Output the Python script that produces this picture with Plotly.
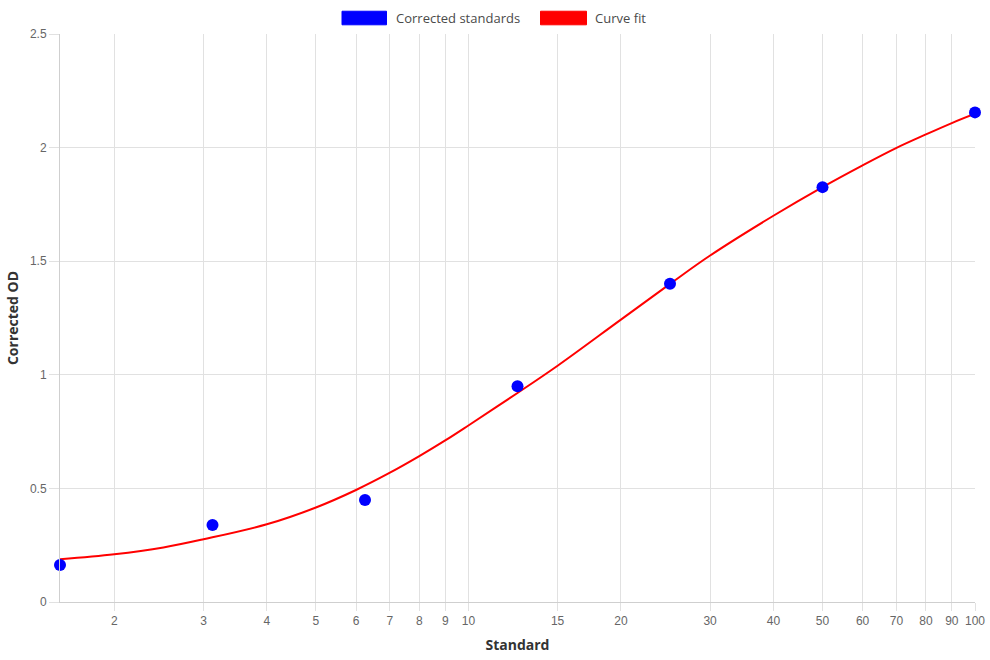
import math
import plotly.graph_objects as go

# Data
std_x = [1.5625, 3.125, 6.25, 12.5, 25, 50, 100]
std_y = [0.163, 0.339, 0.449, 0.95, 1.401, 1.826, 2.155]

fit_x = [1.5625, 2, 2.5, 3, 4, 5, 6, 7, 8, 9, 10, 12.5, 15, 20, 25, 30, 40, 50, 60, 70, 80, 90, 100]
fit_y = [0.188, 0.21, 0.24, 0.276, 0.342, 0.416, 0.493, 0.569, 0.642, 0.711, 0.777, 0.92, 1.04,
         1.243, 1.40, 1.525, 1.700, 1.826, 1.922, 1.999, 2.058, 2.108, 2.149]

x_ticks = [2, 3, 4, 5, 6, 7, 8, 9, 10, 15, 20, 30, 40, 50, 60, 70, 80, 90, 100]
y_ticks = [0, 0.5, 1, 1.5, 2, 2.5]
y_tick_text = ["0", "0.5", "1", "1.5", "2", "2.5"]

series_names = ["Corrected standards", "Curve fit"]
series_colors = ["#0000ff", "#ff0000"]

W, H = 990, 660
ML, MR, MT, MB = 60, 15, 33.5, 58
PW, PH = W - ML - MR, H - MT - MB

fig = go.Figure()
fig.add_trace(go.Scatter(x=fit_x, y=fit_y, mode="lines", name=series_names[1],
                         line=dict(color=series_colors[1], width=2, shape="spline", smoothing=1.0),
                         hoverinfo="x+y"))
fig.add_trace(go.Scatter(x=std_x, y=std_y, mode="markers", name=series_names[0],
                         marker=dict(color=series_colors[0], size=12, line=dict(width=0)),
                         cliponaxis=False, hoverinfo="x+y"))

grid = "#e1e1e1"
tick_font = dict(family="Liberation Sans, Arial, sans-serif", size=12, color="#666666")
title_font = dict(family="Open Sans, sans-serif", size=14, color="#333333")

eps = 1e-6
fig.update_xaxes(type="log", range=[math.log10(min(std_x)) - eps, math.log10(max(std_x)) + eps],
                 tickvals=x_ticks,
                 ticktext=[str(v) for v in x_ticks], showgrid=True, gridcolor=grid, gridwidth=1,
                 showline=True, linecolor="#cfcfcf", linewidth=1, ticks="outside", ticklen=8,
                 tickcolor=grid, tickfont=tick_font, zeroline=False, automargin=False,
                 title=dict(text="<b>Standard</b>", font=title_font, standoff=12))
fig.update_yaxes(range=[0, 2.5], tickvals=y_ticks, ticktext=y_tick_text, showgrid=True,
                 gridcolor=grid, gridwidth=1, showline=True, linecolor="#cfcfcf", linewidth=1,
                 ticks="outside", ticklen=10, tickcolor=grid, tickfont=tick_font, zeroline=False,
                 automargin=False,
                 title=dict(text="<b>Corrected OD</b>", font=title_font, standoff=8))

# Custom legend (Chart.js style boxes)
def px_x(px):
    return (px - ML) / PW

def px_y(py):
    return (H - MB - py) / PH

legend_items = [(342, 386.5, 393.5), (540.5, 586.5, 592.5)]
shapes = []
annotations = []
for (x0, x1, tx), name, col in zip(legend_items, series_names, series_colors):
    shapes.append(dict(type="rect", xref="paper", yref="paper", x0=px_x(x0), x1=px_x(x1),
                       y0=px_y(24.3), y1=px_y(10.7), fillcolor=col, line=dict(color=col, width=1)))
    annotations.append(dict(xref="paper", yref="paper", x=px_x(tx), y=px_y(17.3), text=name,
                            showarrow=False, xanchor="left", yanchor="middle",
                            font=dict(family="Open Sans, sans-serif", size=13, color="#4a4a4a")))

fig.update_layout(width=W, height=H, margin=dict(l=ML, r=MR, t=MT, b=MB),
                  paper_bgcolor="white", plot_bgcolor="white", showlegend=False,
                  shapes=shapes, annotations=annotations)

fig.write_html("out.html")
